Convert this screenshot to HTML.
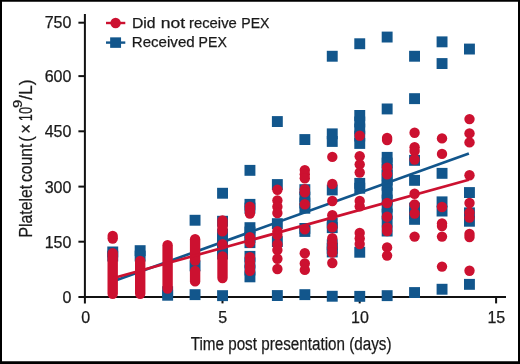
<!DOCTYPE html>
<html lang="en"><head><meta charset="utf-8"><title>Platelet count vs time post presentation</title>
<style>html,body{margin:0;padding:0;background:#fff}body{width:520px;height:364px;overflow:hidden}svg{display:block;will-change:transform}text{font-family:"Liberation Sans",sans-serif;fill:#1a1a1a;stroke:#1a1a1a;stroke-width:.25px}</style>
</head><body>
<svg width="520" height="364" viewBox="0 0 520 364">
<rect x="0" y="0" width="520" height="364" fill="#fff"/>
<path d="M0 0H520V364H0Z M2 1.75V361.35H518V1.75Z" fill="#000" fill-rule="evenodd"/>
<g stroke="#111" stroke-width="2" fill="none">
<path d="M84.9 14.1V303.4"/>
<path d="M78.4 296.9H506"/>
<path d="M78.4 22.7H84.9"/>
<path d="M78.4 76.1H84.9"/>
<path d="M78.4 131.3H84.9"/>
<path d="M78.4 186.6H84.9"/>
<path d="M78.4 241.7H84.9"/>
<path d="M222.5 296.9V303.4"/>
<path d="M359.7 296.9V303.4"/>
<path d="M496.1 296.9V303.4"/>
</g>
<g font-size="16" text-anchor="end">
<text x="71.4" y="27.9">750</text>
<text x="71.4" y="82.0">600</text>
<text x="71.4" y="137.2">450</text>
<text x="71.4" y="192.5">300</text>
<text x="71.4" y="247.6">150</text>
<text x="71.4" y="302.6">0</text>
</g>
<g font-size="16" text-anchor="middle">
<text x="85.6" y="322.6">0</text>
<text x="222.8" y="322.6">5</text>
<text x="360.0" y="322.6">10</text>
<text x="496.3" y="322.6">15</text>
</g>
<text x="190.7" y="349.6" font-size="18" textLength="200.8" lengthAdjust="spacingAndGlyphs">Time post presentation (days)</text>
<g transform="translate(31.6 237.5) rotate(-90)" font-size="19">
<text x="0" y="0" textLength="52.6" lengthAdjust="spacingAndGlyphs">Platelet</text>
<text x="55.5" y="0" textLength="38.4" lengthAdjust="spacingAndGlyphs">count</text>
<text x="95.7" y="0" textLength="5.6" lengthAdjust="spacingAndGlyphs">(</text>
<text x="103.8" y="0" textLength="9.8" lengthAdjust="spacingAndGlyphs">×</text>
<text x="116.3" y="0" textLength="14.2" lengthAdjust="spacingAndGlyphs">10</text>
<text x="129.6" y="-9.5" font-size="13.5" textLength="8.2" lengthAdjust="spacingAndGlyphs">9</text>
<text x="137.5" y="0" textLength="20.6" lengthAdjust="spacingAndGlyphs">/L)</text>
</g>
<path d="M106 23H125.3" stroke="#cc1130" stroke-width="2.4"/><circle cx="115.6" cy="23" r="5.2" fill="#cc1130"/>
<path d="M106 42.6H125.3" stroke="#12568c" stroke-width="2.4"/><rect x="110.15" y="37.35" width="10.9" height="10.5" fill="#12568c"/>
<text x="132" y="27.6" font-size="14.3" textLength="23.6" lengthAdjust="spacingAndGlyphs">Did</text>
<text x="160.7" y="27.6" font-size="14.3" textLength="24.4" lengthAdjust="spacingAndGlyphs">not</text>
<text x="189" y="27.6" font-size="14.3" textLength="47.8" lengthAdjust="spacingAndGlyphs">receive</text>
<text x="241.3" y="27.6" font-size="14.3" textLength="28.2" lengthAdjust="spacingAndGlyphs">PEX</text>
<text x="131.8" y="47" font-size="14.3" textLength="62.9" lengthAdjust="spacingAndGlyphs">Received</text>
<text x="198.6" y="47" font-size="14.3" textLength="28.2" lengthAdjust="spacingAndGlyphs">PEX</text>
<g fill="#12568c">
<rect x="107.3" y="246.5" width="10.9" height="10.9"/>
<rect x="107.3" y="250.6" width="10.9" height="10.9"/>
<rect x="134.7" y="245.2" width="10.9" height="10.9"/>
<rect x="134.7" y="250.6" width="10.9" height="10.9"/>
<rect x="162.2" y="286.2" width="10.9" height="10.9"/>
<rect x="162.2" y="289.8" width="10.9" height="10.9"/>
<rect x="189.6" y="214.8" width="10.9" height="10.9"/>
<rect x="189.6" y="260.4" width="10.9" height="10.9"/>
<rect x="189.6" y="289.2" width="10.9" height="10.9"/>
<rect x="217.1" y="187.8" width="10.9" height="10.9"/>
<rect x="217.1" y="215.8" width="10.9" height="10.9"/>
<rect x="217.1" y="228.6" width="10.9" height="10.9"/>
<rect x="217.1" y="232.6" width="10.9" height="10.9"/>
<rect x="217.1" y="236.6" width="10.9" height="10.9"/>
<rect x="217.1" y="240.6" width="10.9" height="10.9"/>
<rect x="217.1" y="244.6" width="10.9" height="10.9"/>
<rect x="217.1" y="248.6" width="10.9" height="10.9"/>
<rect x="217.1" y="290.2" width="10.9" height="10.9"/>
<rect x="244.5" y="164.9" width="10.9" height="10.9"/>
<rect x="244.5" y="198.9" width="10.9" height="10.9"/>
<rect x="244.5" y="202.6" width="10.9" height="10.9"/>
<rect x="244.5" y="222.2" width="10.9" height="10.9"/>
<rect x="244.5" y="226.6" width="10.9" height="10.9"/>
<rect x="244.5" y="232.0" width="10.9" height="10.9"/>
<rect x="244.5" y="237.2" width="10.9" height="10.9"/>
<rect x="244.5" y="250.9" width="10.9" height="10.9"/>
<rect x="244.5" y="257.6" width="10.9" height="10.9"/>
<rect x="244.5" y="264.6" width="10.9" height="10.9"/>
<rect x="244.5" y="271.4" width="10.9" height="10.9"/>
<rect x="271.9" y="116.1" width="10.9" height="10.9"/>
<rect x="271.9" y="179.1" width="10.9" height="10.9"/>
<rect x="271.9" y="218.2" width="10.9" height="10.9"/>
<rect x="271.9" y="236.1" width="10.9" height="10.9"/>
<rect x="271.9" y="290.1" width="10.9" height="10.9"/>
<rect x="299.4" y="134.1" width="10.9" height="10.9"/>
<rect x="299.4" y="184.2" width="10.9" height="10.9"/>
<rect x="299.4" y="191.6" width="10.9" height="10.9"/>
<rect x="299.4" y="197.6" width="10.9" height="10.9"/>
<rect x="299.4" y="202.8" width="10.9" height="10.9"/>
<rect x="299.4" y="223.0" width="10.9" height="10.9"/>
<rect x="299.4" y="226.0" width="10.9" height="10.9"/>
<rect x="299.4" y="289.2" width="10.9" height="10.9"/>
<rect x="326.8" y="50.8" width="10.9" height="10.9"/>
<rect x="326.8" y="128.4" width="10.9" height="10.9"/>
<rect x="326.8" y="136.0" width="10.9" height="10.9"/>
<rect x="326.8" y="184.5" width="10.9" height="10.9"/>
<rect x="326.8" y="217.6" width="10.9" height="10.9"/>
<rect x="326.8" y="222.2" width="10.9" height="10.9"/>
<rect x="326.8" y="239.2" width="10.9" height="10.9"/>
<rect x="326.8" y="242.9" width="10.9" height="10.9"/>
<rect x="326.8" y="246.5" width="10.9" height="10.9"/>
<rect x="326.8" y="290.8" width="10.9" height="10.9"/>
<rect x="354.3" y="38.3" width="10.9" height="10.9"/>
<rect x="354.3" y="110.0" width="10.9" height="10.9"/>
<rect x="354.3" y="116.5" width="10.9" height="10.9"/>
<rect x="354.3" y="123.5" width="10.9" height="10.9"/>
<rect x="354.3" y="130.6" width="10.9" height="10.9"/>
<rect x="354.3" y="138.0" width="10.9" height="10.9"/>
<rect x="354.3" y="177.9" width="10.9" height="10.9"/>
<rect x="354.3" y="182.8" width="10.9" height="10.9"/>
<rect x="354.3" y="246.8" width="10.9" height="10.9"/>
<rect x="354.3" y="290.9" width="10.9" height="10.9"/>
<rect x="381.7" y="31.6" width="10.9" height="10.9"/>
<rect x="381.7" y="103.5" width="10.9" height="10.9"/>
<rect x="381.7" y="151.9" width="10.9" height="10.9"/>
<rect x="381.7" y="157.6" width="10.9" height="10.9"/>
<rect x="381.7" y="163.6" width="10.9" height="10.9"/>
<rect x="381.7" y="169.6" width="10.9" height="10.9"/>
<rect x="381.7" y="174.6" width="10.9" height="10.9"/>
<rect x="381.7" y="179.9" width="10.9" height="10.9"/>
<rect x="381.7" y="187.6" width="10.9" height="10.9"/>
<rect x="381.7" y="194.6" width="10.9" height="10.9"/>
<rect x="381.7" y="201.6" width="10.9" height="10.9"/>
<rect x="381.7" y="208.6" width="10.9" height="10.9"/>
<rect x="381.7" y="215.6" width="10.9" height="10.9"/>
<rect x="381.7" y="225.6" width="10.9" height="10.9"/>
<rect x="381.7" y="290.2" width="10.9" height="10.9"/>
<rect x="409.1" y="50.8" width="10.9" height="10.9"/>
<rect x="409.1" y="93.2" width="10.9" height="10.9"/>
<rect x="409.1" y="154.9" width="10.9" height="10.9"/>
<rect x="409.1" y="174.9" width="10.9" height="10.9"/>
<rect x="409.1" y="202.6" width="10.9" height="10.9"/>
<rect x="409.1" y="208.1" width="10.9" height="10.9"/>
<rect x="409.1" y="213.9" width="10.9" height="10.9"/>
<rect x="409.1" y="287.1" width="10.9" height="10.9"/>
<rect x="436.6" y="36.4" width="10.9" height="10.9"/>
<rect x="436.6" y="58.1" width="10.9" height="10.9"/>
<rect x="436.6" y="167.9" width="10.9" height="10.9"/>
<rect x="436.6" y="196.4" width="10.9" height="10.9"/>
<rect x="436.6" y="205.6" width="10.9" height="10.9"/>
<rect x="436.6" y="283.8" width="10.9" height="10.9"/>
<rect x="464.0" y="43.6" width="10.9" height="10.9"/>
<rect x="464.0" y="187.1" width="10.9" height="10.9"/>
<rect x="464.0" y="207.4" width="10.9" height="10.9"/>
<rect x="464.0" y="215.8" width="10.9" height="10.9"/>
<rect x="464.0" y="278.9" width="10.9" height="10.9"/>
</g>
<path d="M112.7 281.5L468.9 153.4" stroke="#12568c" stroke-width="2.7" fill="none"/>
<g fill="#cc1130">
<circle cx="112.7" cy="236.0" r="5.2"/>
<circle cx="112.7" cy="238.6" r="5.2"/>
<rect x="107.5" y="248.1" width="10.4" height="50.9" rx="5.2"/>
<rect x="135.0" y="255.8" width="10.4" height="43.2" rx="5.2"/>
<rect x="162.4" y="240.0" width="10.4" height="53.8" rx="5.2"/>
<rect x="189.9" y="234.0" width="10.4" height="31.8" rx="5.2"/>
<rect x="189.9" y="265.8" width="10.4" height="20.8" rx="5.2"/>
<rect x="217.3" y="215.2" width="10.4" height="21.4" rx="5.2"/>
<circle cx="222.5" cy="244.2" r="5.2"/>
<rect x="217.3" y="251.2" width="10.4" height="32.0" rx="5.2"/>
<circle cx="249.9" cy="206.8" r="5.2"/>
<circle cx="249.9" cy="210.2" r="5.2"/>
<circle cx="249.9" cy="213.5" r="5.2"/>
<circle cx="249.9" cy="237.1" r="5.2"/>
<circle cx="249.9" cy="242.7" r="5.2"/>
<circle cx="249.9" cy="257.3" r="5.2"/>
<circle cx="249.9" cy="262.0" r="5.2"/>
<circle cx="249.9" cy="266.5" r="5.2"/>
<circle cx="249.9" cy="270.7" r="5.2"/>
<circle cx="277.4" cy="189.8" r="5.2"/>
<circle cx="277.4" cy="200.5" r="5.2"/>
<circle cx="277.4" cy="206.7" r="5.2"/>
<circle cx="277.4" cy="213.0" r="5.2"/>
<circle cx="277.4" cy="231.3" r="5.2"/>
<circle cx="277.4" cy="235.0" r="5.2"/>
<circle cx="277.4" cy="244.4" r="5.2"/>
<circle cx="277.4" cy="250.0" r="5.2"/>
<circle cx="277.4" cy="258.8" r="5.2"/>
<circle cx="277.4" cy="269.0" r="5.2"/>
<circle cx="304.8" cy="170.1" r="5.2"/>
<circle cx="304.8" cy="174.2" r="5.2"/>
<circle cx="304.8" cy="178.3" r="5.2"/>
<circle cx="304.8" cy="189.3" r="5.2"/>
<circle cx="304.8" cy="192.2" r="5.2"/>
<circle cx="304.8" cy="204.2" r="5.2"/>
<circle cx="304.8" cy="229.2" r="5.2"/>
<circle cx="304.8" cy="253.3" r="5.2"/>
<circle cx="304.8" cy="263.5" r="5.2"/>
<circle cx="304.8" cy="269.9" r="5.2"/>
<circle cx="332.3" cy="156.9" r="5.2"/>
<circle cx="332.3" cy="184.0" r="5.2"/>
<circle cx="332.3" cy="201.0" r="5.2"/>
<circle cx="332.3" cy="215.3" r="5.2"/>
<circle cx="332.3" cy="227.3" r="5.2"/>
<circle cx="332.3" cy="238.3" r="5.2"/>
<circle cx="332.3" cy="243.0" r="5.2"/>
<circle cx="332.3" cy="247.8" r="5.2"/>
<circle cx="332.3" cy="252.5" r="5.2"/>
<circle cx="332.3" cy="263.0" r="5.2"/>
<circle cx="359.7" cy="135.8" r="5.2"/>
<circle cx="359.7" cy="156.2" r="5.2"/>
<circle cx="359.7" cy="164.4" r="5.2"/>
<circle cx="359.7" cy="172.5" r="5.2"/>
<circle cx="359.7" cy="200.9" r="5.2"/>
<circle cx="359.7" cy="206.4" r="5.2"/>
<circle cx="359.7" cy="233.0" r="5.2"/>
<circle cx="359.7" cy="238.5" r="5.2"/>
<circle cx="359.7" cy="244.0" r="5.2"/>
<circle cx="387.1" cy="138.0" r="5.2"/>
<circle cx="387.1" cy="140.0" r="5.2"/>
<circle cx="387.1" cy="167.8" r="5.2"/>
<circle cx="387.1" cy="174.2" r="5.2"/>
<circle cx="387.1" cy="203.0" r="5.2"/>
<circle cx="387.1" cy="216.8" r="5.2"/>
<circle cx="387.1" cy="227.5" r="5.2"/>
<circle cx="387.1" cy="231.0" r="5.2"/>
<circle cx="387.1" cy="247.4" r="5.2"/>
<circle cx="387.1" cy="255.6" r="5.2"/>
<circle cx="414.6" cy="132.8" r="5.2"/>
<circle cx="414.6" cy="147.2" r="5.2"/>
<circle cx="414.6" cy="151.0" r="5.2"/>
<circle cx="414.6" cy="159.5" r="5.2"/>
<circle cx="414.6" cy="193.7" r="5.2"/>
<circle cx="414.6" cy="204.5" r="5.2"/>
<circle cx="414.6" cy="213.5" r="5.2"/>
<circle cx="414.6" cy="236.6" r="5.2"/>
<circle cx="442.0" cy="138.4" r="5.2"/>
<circle cx="442.0" cy="153.9" r="5.2"/>
<circle cx="442.0" cy="207.0" r="5.2"/>
<circle cx="442.0" cy="223.5" r="5.2"/>
<circle cx="442.0" cy="226.0" r="5.2"/>
<circle cx="442.0" cy="236.6" r="5.2"/>
<circle cx="442.0" cy="266.6" r="5.2"/>
<circle cx="469.5" cy="119.1" r="5.2"/>
<circle cx="469.5" cy="133.4" r="5.2"/>
<circle cx="469.5" cy="142.4" r="5.2"/>
<circle cx="469.5" cy="175.3" r="5.2"/>
<circle cx="469.5" cy="203.0" r="5.2"/>
<circle cx="469.5" cy="212.6" r="5.2"/>
<circle cx="469.5" cy="217.6" r="5.2"/>
<circle cx="469.5" cy="233.9" r="5.2"/>
<circle cx="469.5" cy="237.0" r="5.2"/>
<circle cx="469.5" cy="270.8" r="5.2"/>
</g>
<path d="M112.7 278.3L468.9 179.8" stroke="#cc1130" stroke-width="2.7" fill="none"/>
</svg>
</body></html>
